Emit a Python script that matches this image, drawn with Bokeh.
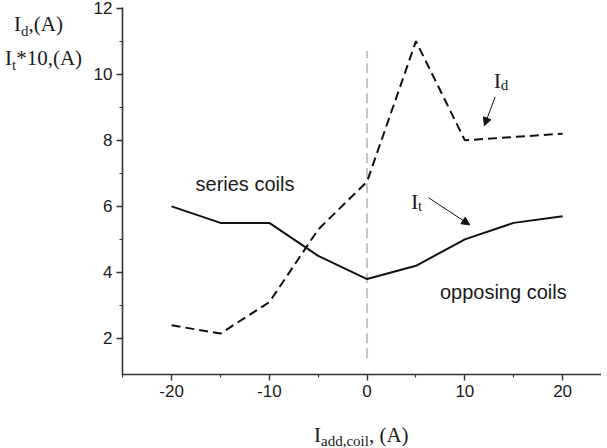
from bokeh.plotting import figure
from bokeh.models import Range1d, FixedTicker, Label, Arrow, NormalHead, ColumnDataSource, Div
from bokeh.layouts import row, column
from bokeh.embed import file_html
from bokeh.resources import INLINE

# ---- data ----
i_add = [-20, -15, -10, -5, 0, 5, 10, 15, 20]
i_d = [2.4, 2.15, 3.1, 5.3, 6.75, 11.0, 8.0, 8.1, 8.2]
i_t10 = [6.0, 5.5, 5.5, 4.5, 3.8, 4.2, 5.0, 5.5, 5.7]

x_major = [-20, -10, 0, 10, 20]
x_minor = [-25, -15, -5, 5, 15]
y_major = [2, 4, 6, 8, 10, 12]
y_minor = [3, 5, 7, 9, 11]

divider_x = [0]
divider_y0 = [1.4]
divider_y1 = [10.7]

SANS = "Liberation Sans"
SERIF = "Liberation Serif"

p = figure(width=511, height=407, output_backend="svg", toolbar_location=None,
           x_range=Range1d(-25.02, 23.98), y_range=Range1d(0.91, 12.02),
           min_border_left=31, min_border_right=0, min_border_top=7, min_border_bottom=33)
p.outline_line_color = None
p.xgrid.visible = False
p.ygrid.visible = False
p.background_fill_color = "white"
p.border_fill_color = None

for ax, maj, mnr in ((p.xaxis[0], x_major, x_minor), (p.yaxis[0], y_major, y_minor)):
    ax.ticker = FixedTicker(ticks=maj, minor_ticks=mnr)
    ax.major_label_overrides = {v: str(v) for v in maj}
    ax.axis_line_color = "#333333"
    ax.axis_line_width = 1.6
    ax.major_tick_line_color = "#333333"
    ax.minor_tick_line_color = "#333333"
    ax.major_tick_line_width = 1.4
    ax.minor_tick_line_width = 1.2
    ax.major_tick_in = 0
    ax.major_tick_out = 6
    ax.minor_tick_in = 0
    ax.minor_tick_out = 3
    ax.major_label_text_font = SANS
    ax.major_label_text_font_size = "17px"
    ax.major_label_text_color = "#1a1a1a"
    ax.major_label_standoff = 4

# vertical divider at zero
p.segment(x0=divider_x, y0=divider_y0, x1=divider_x, y1=divider_y1,
          line_color="#c4c4c4", line_width=2, line_dash="10 5")

src = ColumnDataSource(dict(x=i_add, d=i_d, t=i_t10))
p.line("x", "d", source=src, line_color="#111111", line_width=2, line_dash="9 5")
p.line("x", "t", source=src, line_color="#111111", line_width=2)

def lab(x, y, text, font, size, xo=0, yo=0):
    p.add_layout(Label(x=x, y=y, x_offset=xo, y_offset=yo, text=text,
                       text_font=font, text_font_size=size, text_color="#1a1a1a",
                       text_align="left", text_baseline="alphabetic"))

# in-plot texts
lab(-17.55, 6.68, "series coils", SANS, "20px")
lab(7.45, 3.42, "opposing coils", SANS, "20px")

# I_d annotation
lab(12.96, 9.82, "I", SERIF, "22px")
lab(12.96, 9.82, "d", SERIF, "15px", xo=7, yo=-5)
# I_t annotation
lab(4.5, 6.14, "I", SERIF, "22px")
lab(4.5, 6.14, "t", SERIF, "15px", xo=7, yo=-4)

head1 = NormalHead(size=8, fill_color="#111111", line_color="#111111")
p.add_layout(Arrow(end=head1, x_start=13.1, y_start=9.31, x_end=12.0, y_end=8.44,
                   line_color="#111111", line_width=1))
head2 = NormalHead(size=8, fill_color="#111111", line_color="#111111")
p.add_layout(Arrow(end=head2, x_start=6.3, y_start=6.26, x_end=10.5, y_end=5.44,
                   line_color="#111111", line_width=1))

# axis titles as HTML text (with real subscripts)
SUB = "font-size:15px;position:relative;top:5px;"
LINE = ("position:absolute;white-space:nowrap;font-size:21px;line-height:21px;"
        "font-family:'Liberation Serif';color:#1a1a1a;")
y_title_html = (
    '<div style="position:relative;width:80px;height:407px;">'
    f'<div style="{LINE}left:9px;top:9px;">I<span style="{SUB}">d</span>,(A)</div>'
    f'<div style="{LINE}left:0px;top:43px;">I<span style="{SUB}">t</span>*10,(A)</div>'
    '</div>'
)
x_title_html = (
    '<div style="position:relative;width:591px;height:25px;">'
    f'<div style="{LINE}left:309px;top:3px;">I<span style="{SUB}top:4px;">add,coil</span>, (A)</div>'
    '</div>'
)
y_title = Div(text=y_title_html, width=80, height=407)
x_title = Div(text=x_title_html, width=591, height=25)

layout = column(row(y_title, p), x_title)
open("out.html", "w").write(file_html(layout, INLINE))
